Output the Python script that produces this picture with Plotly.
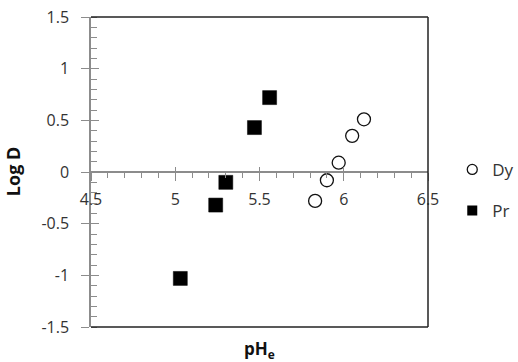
import plotly.graph_objects as go

# pH at equilibrium vs. log distribution ratio
dy_ph = [5.83, 5.90, 5.97, 6.05, 6.12]
dy_logd = [-0.28, -0.08, 0.09, 0.35, 0.51]

pr_ph = [5.03, 5.24, 5.30, 5.47, 5.56]
pr_logd = [-1.03, -0.32, -0.10, 0.43, 0.72]

x_range = [4.5, 6.5]
y_range = [-1.5, 1.5]

x_tickvals = [4.5, 5.0, 5.5, 6.0, 6.5]
x_ticktext = ["4.5", "5", "5.5", "6", "6.5"]
y_tickvals = [-1.5, -1.0, -0.5, 0.0, 0.5, 1.0, 1.5]
y_ticktext = ["-1.5", "-1", "-0.5", "0", "0.5", "1", "1.5"]

FONT = "'Open Sans', Lato, sans-serif"
TXT = "#333333"
AXIS_GREY = "#8c8c8c"
BOX = "#222222"

fig = go.Figure()

# data markers
fig.add_trace(go.Scatter(
    x=dy_ph, y=dy_logd, mode="markers", name="Dy", showlegend=False,
    marker=dict(symbol="circle-open", size=13, color="#111111",
                line=dict(width=1.3, color="#111111")),
))
fig.add_trace(go.Scatter(
    x=pr_ph, y=pr_logd, mode="markers", name="Pr", showlegend=False,
    marker=dict(symbol="square", size=14, color="#000000",
                line=dict(width=0.5, color="#000000")),
))

# legend entries (smaller symbols than the plotted markers)
fig.add_trace(go.Scatter(
    x=[None], y=[None], mode="markers", name="Dy", legendgroup="dy",
    marker=dict(symbol="circle-open", size=10, color="#111111",
                line=dict(width=1.3, color="#111111")),
))
fig.add_trace(go.Scatter(
    x=[None], y=[None], mode="markers", name="Pr", legendgroup="pr",
    marker=dict(symbol="square", size=10, color="#000000"),
))

fig.update_layout(
    width=518, height=362,
    margin=dict(l=91, r=90, t=17, b=35, autoexpand=False),
    paper_bgcolor="white", plot_bgcolor="white",
    font=dict(family=FONT, size=15, color=TXT),
    showlegend=True,
    legend=dict(
        x=1.072, xanchor="left", y=0.565, yanchor="top",
        font=dict(family=FONT, size=17, color=TXT),
        tracegroupgap=16, traceorder="grouped",
        bgcolor="rgba(0,0,0,0)",
    ),
    # x axis crosses the y axis at Log D = 0 (middle of the plot)
    xaxis=dict(
        range=x_range, tickvals=x_tickvals, ticktext=x_ticktext,
        anchor="free", position=0.5,
        showline=True, linecolor=AXIS_GREY, linewidth=1.5,
        ticks="outside", ticklen=8, tickcolor=AXIS_GREY, tickwidth=1,
        minor=dict(ticks="outside", ticklen=5, dtick=0.1, tick0=4.5,
                   tickcolor=AXIS_GREY, tickwidth=1, showgrid=False),
        showgrid=False, zeroline=False, ticklabelstandoff=5,
        tickfont=dict(family=FONT, size=16, color=TXT),
    ),
    xaxis2=dict(
        range=x_range, tickvals=x_tickvals, overlaying="x", anchor="free",
        position=0.5, ticks="inside", ticklen=5, tickcolor=AXIS_GREY,
        tickwidth=1, showticklabels=False, showgrid=False, zeroline=False,
        showline=False,
    ),
    yaxis=dict(
        range=y_range, tickvals=y_tickvals, ticktext=y_ticktext, anchor="x",
        showline=True, linecolor=AXIS_GREY, linewidth=1.5,
        ticks="outside", ticklen=8, tickcolor=AXIS_GREY, tickwidth=1,
        minor=dict(ticks="inside", ticklen=6, dtick=0.1, tick0=-1.5,
                   tickcolor=AXIS_GREY, tickwidth=1, showgrid=False),
        showgrid=False, zeroline=False, ticklabelstandoff=9,
        tickfont=dict(family=FONT, size=16, color=TXT),
    ),
    yaxis2=dict(
        range=y_range, tickvals=y_tickvals, overlaying="y", anchor="x",
        side="left", ticks="inside", ticklen=8, tickcolor=AXIS_GREY,
        tickwidth=1, showticklabels=False, showgrid=False, zeroline=False,
        showline=False,
    ),
)

# invisible helper trace so the overlay axes are drawn
fig.add_trace(go.Scatter(x=[None], y=[None], xaxis="x2", yaxis="y2",
                         showlegend=False, hoverinfo="skip"))

# frame: top, bottom and right edges
for x0, y0, x1, y1 in [(0, 1, 1, 1), (0, 0, 1, 0), (1, 0, 1, 1)]:
    fig.add_shape(type="line", xref="paper", yref="paper",
                  x0=x0, y0=y0, x1=x1, y1=y1,
                  line=dict(color=BOX, width=1.5))

fig.add_annotation(text="<b>Log D</b>", xref="paper", yref="paper",
                   x=-0.231, y=0.5, xanchor="center", yanchor="middle",
                   textangle=-90, showarrow=False,
                   font=dict(family=FONT, size=18, color="#111111"))
fig.add_annotation(text="<b>pH<sub>e</sub></b>", xref="paper", yref="paper",
                   x=0.5, y=-0.072, xanchor="center", yanchor="middle",
                   showarrow=False,
                   font=dict(family=FONT, size=17, color="#111111"))

fig.write_html("out.html")
